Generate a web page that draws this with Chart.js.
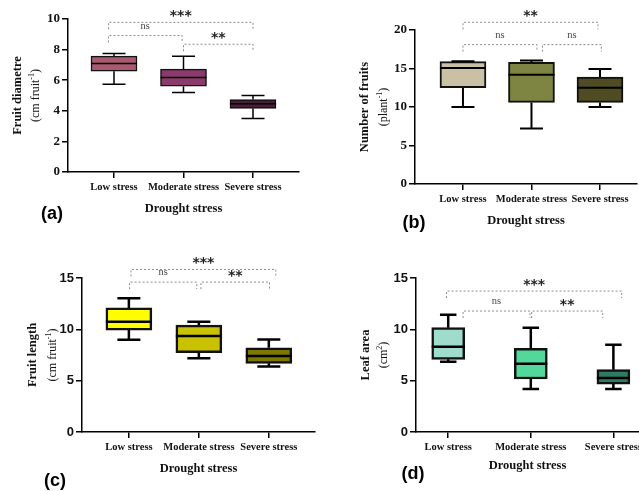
<!DOCTYPE html>
<html>
<head>
<meta charset="utf-8">
<script src="https://cdn.jsdelivr.net/npm/chart.js@4.4.1/dist/chart.umd.min.js"></script>
<style>
  html, body { margin: 0; padding: 0; background: #fff; overflow: hidden; }
  body { width: 639px; height: 491px; position: relative; }
  .panel { position: absolute; overflow: hidden; }
</style>
</head>
<body>
<div class="panel" style="left:0;top:0;width:320px;height:240px"><canvas id="chartA" width="320" height="240"></canvas></div>
<div class="panel" style="left:320px;top:0;width:319px;height:240px"><canvas id="chartB" width="360" height="240"></canvas></div>
<div class="panel" style="left:0;top:240px;width:320px;height:251px"><canvas id="chartC" width="320" height="251"></canvas></div>
<div class="panel" style="left:320px;top:240px;width:319px;height:251px"><canvas id="chartD" width="360" height="251"></canvas></div>

<script>
// Categories (shared x axis)
const categories = ['Low stress', 'Moderate stress', 'Severe stress'];

// (a) Fruit diametre
const diamMin = [5.74, 5.2, 3.5];
const diamQ1 = [6.59, 5.61, 4.15];
const diamMedian = [7.09, 6.18, 4.46];
const diamQ3 = [7.57, 6.72, 4.74];
const diamMax = [7.74, 7.57, 5.0];
const diamTicks = [0, 2, 4, 6, 8, 10];

// (b) Number of fruits
const fruitsMin = [10.0, 7.2, 10.0];
const fruitsQ1 = [12.5, 10.6, 10.6];
const fruitsMedian = [15.05, 14.2, 12.5];
const fruitsQ3 = [15.9, 15.8, 13.9];
const fruitsMax = [15.95, 16.05, 14.95];
const fruitsTicks = [0, 5, 10, 15, 20];

// (c) Fruit length
const lengthMin = [8.99, 7.18, 6.37];
const lengthQ1 = [9.93, 7.73, 6.69];
const lengthMedian = [10.73, 9.34, 7.4];
const lengthQ3 = [12.09, 10.41, 8.21];
const lengthMax = [13.03, 10.73, 9.02];
const lengthTicks = [0, 5, 10, 15];

// (d) Leaf area
const leafMin = [6.85, 4.19, 4.19];
const leafQ1 = [7.08, 5.16, 4.67];
const leafMedian = [8.31, 6.65, 5.26];
const leafQ3 = [10.16, 8.15, 6.07];
const leafMax = [11.42, 10.16, 8.5];
const leafTicks = [0, 5, 10, 15];

// significance brackets: from/to on the category axis, level in y units
const diamSig = [
  { from: -0.08, to: 2, level: 9.78, label: '***' },
  { from: -0.08, to: 0.98, level: 8.92, label: 'ns' },
  { from: 1, to: 2, level: 8.35, label: '**' }
];
const fruitsSig = [
  { from: 0, to: 1.97, level: 21.0, label: '**' },
  { from: 0, to: 1.08, level: 18.1, label: 'ns' },
  { from: 1.16, to: 2.02, level: 18.1, label: 'ns' }
];
const lengthSig = [
  { from: 0.03, to: 2.1, level: 15.83, label: '***' },
  { from: 0.01, to: 0.97, level: 14.6, label: 'ns' },
  { from: 1.03, to: 2.01, level: 14.6, label: '**' }
];
const leafSig = [
  { from: -0.02, to: 2.1, level: 13.73, label: '***' },
  { from: 0.18, to: 0.99, level: 11.78, label: 'ns' },
  { from: 1.01, to: 1.87, level: 11.78, label: '**' }
];

const SERIF = '"Liberation Serif", "Times New Roman", serif';
const SANS = '"Liberation Sans", Arial, sans-serif';

// whiskers, medians, brackets, y title and panel letter
const boxExtras = {
  id: 'boxExtras',
  afterDatasetsDraw(chart, args, o) {
    const ctx = chart.ctx;
    const xs = chart.scales.x, ys = chart.scales.y;
    const area = chart.chartArea;
    const meta = chart.getDatasetMeta(0);

    ctx.save();
    ctx.strokeStyle = '#000';
    ctx.lineWidth = o.lineWidth;
    ctx.lineCap = 'butt';
    meta.data.forEach((bar, i) => {
      const cx = xs.getPixelForValue(i);
      const half = bar.width / 2;
      const cap = half / 2;
      const yMin = ys.getPixelForValue(o.min[i]);
      const yQ1 = ys.getPixelForValue(o.q1[i]);
      const yMed = ys.getPixelForValue(o.median[i]);
      const yQ3 = ys.getPixelForValue(o.q3[i]);
      const yMax = ys.getPixelForValue(o.max[i]);
      ctx.beginPath();
      ctx.moveTo(cx, yQ3); ctx.lineTo(cx, yMax);
      ctx.moveTo(cx - cap, yMax); ctx.lineTo(cx + cap, yMax);
      ctx.moveTo(cx, yQ1); ctx.lineTo(cx, yMin);
      ctx.moveTo(cx - cap, yMin); ctx.lineTo(cx + cap, yMin);
      ctx.moveTo(cx - half, yMed); ctx.lineTo(cx + half, yMed);
      ctx.stroke();
    });

    // brackets
    ctx.setLineDash([2, 2]);
    ctx.strokeStyle = '#8c8c8c';
    ctx.lineWidth = 1;
    ctx.textAlign = 'center';
    o.brackets.forEach(b => {
      const x1 = xs.getPixelForValue(b.from);
      const x2 = xs.getPixelForValue(b.to);
      const yl = ys.getPixelForValue(b.level);
      ctx.beginPath();
      ctx.moveTo(x1, yl + 7); ctx.lineTo(x1, yl); ctx.lineTo(x2, yl); ctx.lineTo(x2, yl + 7);
      ctx.stroke();
      const tx = (x1 + x2) / 2;
      const ty = yl - 10;
      ctx.textBaseline = 'alphabetic';
      if (b.label === 'ns') {
        ctx.fillStyle = '#444';
        ctx.font = '10.5px ' + SERIF;
        ctx.fillText('ns', tx, ty + 3);
      } else {
        ctx.fillStyle = '#222';
        ctx.font = 'bold 14px "DejaVu Sans", sans-serif';
        ctx.fillText(b.label, tx, ty + 8);
      }
    });
    ctx.setLineDash([]);

    // y title: bold line + unit line with superscript
    const cy = (area.top + area.bottom) / 2;
    ctx.fillStyle = '#111';
    ctx.save();
    ctx.translate(area.left - o.titleOffset, cy);
    ctx.rotate(-Math.PI / 2);
    ctx.font = 'bold 12.5px ' + SERIF;
    ctx.textAlign = 'center';
    ctx.textBaseline = 'alphabetic';
    ctx.fillText(o.yTitle, 0, 4);
    ctx.restore();

    ctx.save();
    ctx.translate(area.left - o.unitOffset, cy);
    ctx.rotate(-Math.PI / 2);
    const big = '12px ' + SERIF, small = '8px ' + SERIF;
    ctx.font = big;
    const w1 = ctx.measureText(o.yUnit[0]).width;
    const w3 = ctx.measureText(o.yUnit[2]).width;
    ctx.font = small;
    const w2 = ctx.measureText(o.yUnit[1]).width;
    let px = -(w1 + w2 + w3) / 2;
    ctx.textAlign = 'left';
    ctx.textBaseline = 'alphabetic';
    ctx.font = big; ctx.fillText(o.yUnit[0], px, 4); px += w1;
    ctx.font = small; ctx.fillText(o.yUnit[1], px, -1); px += w2;
    ctx.font = big; ctx.fillText(o.yUnit[2], px, 4);
    ctx.restore();

    // panel letter
    ctx.font = 'bold 18px ' + SANS;
    ctx.fillStyle = '#000';
    ctx.textAlign = 'center';
    ctx.textBaseline = 'middle';
    ctx.fillText(o.letter[0], o.letter[1], o.letter[2]);
    ctx.restore();
  }
};

function makePanel(id, p) {
  const canvas = document.getElementById(id);
  const W = canvas.width, H = canvas.height;
  new Chart(canvas, {
    type: 'bar',
    data: {
      datasets: [{
        data: categories.map((c, i) => ({ x: i, y: [p.q1[i], p.q3[i]] })),
        backgroundColor: p.colors,
        borderColor: '#111',
        borderWidth: p.lineWidth,
        borderSkipped: false,
        barThickness: p.barWidth
      }]
    },
    options: {
      responsive: false,
      animation: false,
      layout: { padding: { top: p.area.top, right: W - p.area.right, bottom: 0, left: 0 } },
      plugins: {
        legend: { display: false },
        tooltip: { enabled: false },
        boxExtras: {
          min: p.min, q1: p.q1, median: p.median, q3: p.q3, max: p.max,
          brackets: p.brackets, lineWidth: p.lineWidth,
          yTitle: p.yTitle, yUnit: p.yUnit,
          titleOffset: p.titleOffset, unitOffset: p.unitOffset,
          letter: p.letter
        }
      },
      scales: {
        x: {
          type: 'linear',
          min: p.xRange[0],
          max: p.xRange[1],
          offset: false,
          afterBuildTicks: s => { s.ticks = categories.map((c, i) => ({ value: i })); },
          afterFit: s => { s.height = H - p.area.bottom; },
          ticks: {
            autoSkip: false,
            maxRotation: 0,
            minRotation: 0,
            padding: 3,
            color: '#111',
            font: { family: SERIF, weight: 'bold', size: 10.5 },
            callback: v => categories[v]
          },
          grid: { offset: false, drawOnChartArea: false, tickLength: 6, color: '#000', lineWidth: 1.5 },
          border: { display: true, color: '#000', width: 1.5 },
          title: {
            display: true,
            text: 'Drought stress',
            color: '#111',
            font: { family: SERIF, weight: 'bold', size: 12.5 },
            padding: { top: 0, bottom: p.xTitlePad }
          }
        },
        y: {
          min: 0,
          max: p.yTicks[p.yTicks.length - 1],
          afterBuildTicks: s => { s.ticks = p.yTicks.map(v => ({ value: v })); },
          afterFit: s => { s.width = p.area.left; },
          ticks: {
            padding: 2,
            color: '#111',
            font: { family: p.tickFont, weight: 'bold', size: 13 }
          },
          grid: { drawOnChartArea: false, tickLength: 6, color: '#000', lineWidth: 1.5 },
          border: { display: true, color: '#000', width: 1.5 }
        }
      }
    },
    plugins: [boxExtras]
  });
}

makePanel('chartA', {
  min: diamMin, q1: diamQ1, median: diamMedian, q3: diamQ3, max: diamMax,
  yTicks: diamTicks, brackets: diamSig,
  colors: ['#a85b70', '#8b3b6b', '#4a1d3a'],
  area: { left: 68, right: 299, top: 19, bottom: 172 },
  xRange: [-0.662, 2.662], barWidth: 46, lineWidth: 1.5,
  tickFont: SERIF, xTitlePad: 23.5,
  yTitle: 'Fruit diametre', yUnit: ['(cm fruit', '-1', ')'],
  titleOffset: 51, unitOffset: 33, letter: ['(a)', 52, 214]
});

makePanel('chartB', {
  min: fruitsMin, q1: fruitsQ1, median: fruitsMedian, q3: fruitsQ3, max: fruitsMax,
  yTicks: fruitsTicks, brackets: fruitsSig,
  colors: ['#c9c0a6', '#7e8441', '#4f4b23'],
  area: { left: 95, right: 317, top: 30, bottom: 184 },
  xRange: [-0.70, 2.54], barWidth: 46, lineWidth: 2,
  tickFont: SERIF, xTitlePad: 11.5,
  yTitle: 'Number of fruits', yUnit: ['(plant', '-1', ')'],
  titleOffset: 51, unitOffset: 32, letter: ['(b)', 94, 223]
});

makePanel('chartC', {
  min: lengthMin, q1: lengthQ1, median: lengthMedian, q3: lengthQ3, max: lengthMax,
  yTicks: lengthTicks, brackets: lengthSig,
  colors: ['#ffff00', '#c9c200', '#7d7800'],
  area: { left: 82, right: 315, top: 38, bottom: 192 },
  xRange: [-0.67, 2.66], barWidth: 46, lineWidth: 2.5,
  tickFont: SANS, xTitlePad: 14.5,
  yTitle: 'Fruit length', yUnit: ['(cm fruit', '-1', ')'],
  titleOffset: 50, unitOffset: 30, letter: ['(c)', 55, 241]
});

makePanel('chartD', {
  min: leafMin, q1: leafQ1, median: leafMedian, q3: leafQ3, max: leafMax,
  yTicks: leafTicks, brackets: leafSig,
  colors: ['#a0dccd', '#52d89b', '#2f7b63'],
  area: { left: 96, right: 319, top: 38, bottom: 192 },
  xRange: [-0.39, 2.31], barWidth: 33, lineWidth: 2.5,
  tickFont: SANS, xTitlePad: 17.5,
  yTitle: 'Leaf area', yUnit: ['(cm', '2', ')'],
  titleOffset: 51, unitOffset: 33, letter: ['(d)', 93, 234]
});
</script>
</body>
</html>
